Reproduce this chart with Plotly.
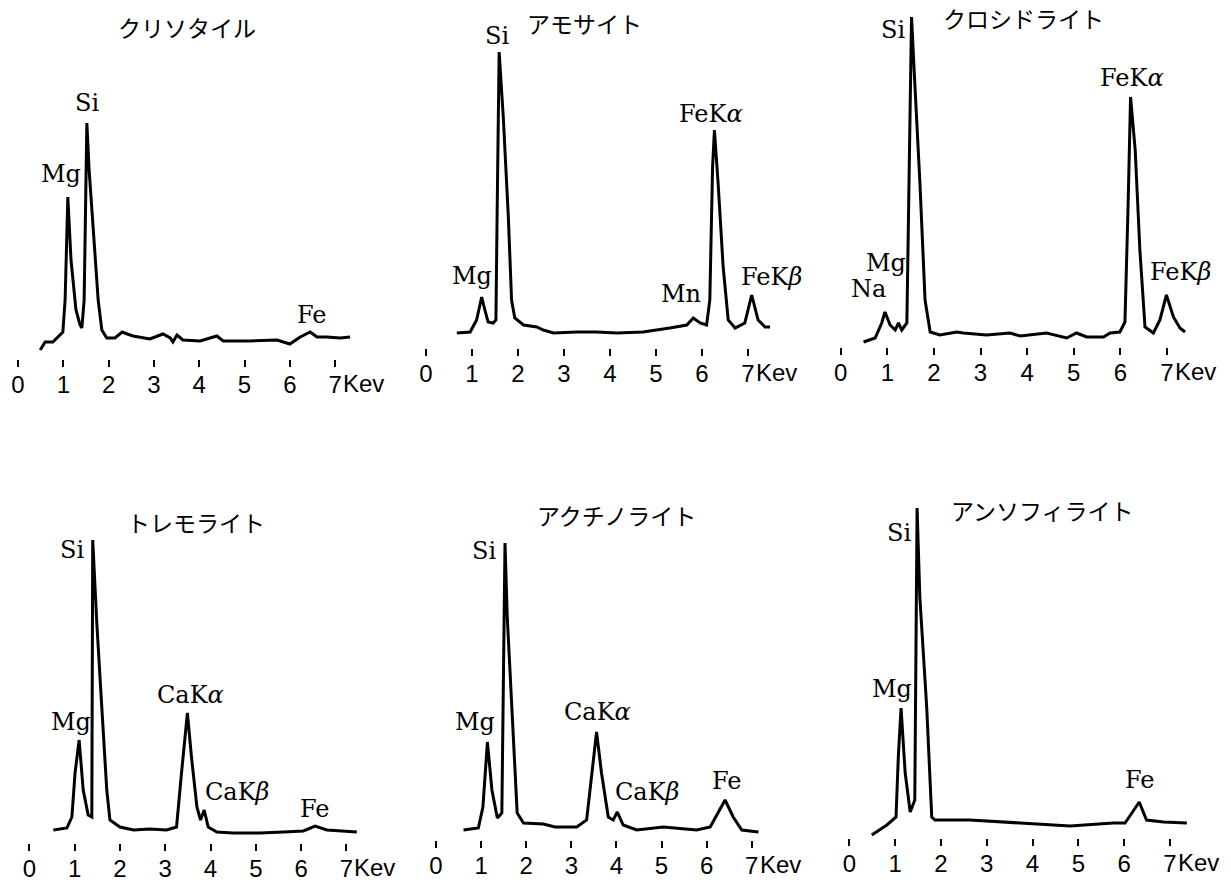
import plotly.graph_objects as go

W, H = 1231, 888

# ---------------- data ----------------
titles = ["クリソタイル", "アモサイト", "クロシドライト",
          "トレモライト", "アクチノライト", "アンソフィライト"]

tick_values = [0, 1, 2, 3, 4, 5, 6, 7]
tick_labels = ["0", "1", "2", "3", "4", "5", "6", "7"]
unit_label = "Kev"

chrysotile_kev = [0.49, 0.60, 0.77, 0.99, 1.04, 1.10, 1.17, 1.28, 1.37, 1.41, 1.46, 1.50, 1.52,
                  1.57, 1.66, 1.77, 1.85, 1.96, 2.14, 2.30, 2.41, 2.54, 2.91, 3.20, 3.36, 3.42,
                  3.51, 3.64, 4.02, 4.39, 4.53, 5.12, 5.72, 6.00, 6.23, 6.45, 6.60, 6.82, 7.11, 7.33]
chrysotile_counts = [9, 17, 17, 27, 59, 162, 99, 49, 34, 31, 59, 179, 236,
                     189, 129, 59, 29, 21, 21, 27, 25, 23, 20, 25, 21, 17,
                     24, 19, 18, 23, 18, 18, 19, 15, 22, 27, 22, 22, 21, 22]

amosite_kev = [0.67, 0.96, 1.10, 1.21, 1.28, 1.35, 1.46, 1.52, 1.55, 1.59, 1.68, 1.79, 1.86,
               1.93, 2.12, 2.41, 2.55, 2.77, 3.28, 3.71, 4.15, 4.72, 5.30, 5.67, 5.81, 5.96,
               6.10, 6.17, 6.23, 6.27, 6.35, 6.46, 6.57, 6.72, 6.93, 7.08, 7.22, 7.37, 7.48]
amosite_counts = [15, 16, 28, 51, 38, 26, 25, 28, 148, 296, 231, 131, 48,
                  30, 23, 21, 18, 15, 16, 16, 15, 16, 20, 23, 30, 25,
                  23, 48, 181, 218, 165, 81, 28, 20, 25, 53, 28, 21, 21]

crocidolite_kev = [0.49, 0.74, 0.88, 0.95, 1.06, 1.17, 1.24, 1.31, 1.42, 1.45, 1.52, 1.59, 1.70,
                   1.81, 1.92, 2.13, 2.49, 2.63, 3.13, 3.63, 3.85, 4.42, 4.85, 5.06, 5.28, 5.64,
                   5.78, 5.99, 6.10, 6.17, 6.22, 6.32, 6.42, 6.53, 6.71, 6.85, 6.99, 7.14, 7.28, 7.39]
crocidolite_counts = [5, 9, 24, 35, 22, 17, 24, 17, 24, 114, 330, 264, 164,
                      47, 15, 12, 15, 14, 12, 14, 11, 14, 9, 14, 10, 10,
                      14, 15, 25, 147, 250, 197, 97, 20, 14, 27, 52, 30, 19, 15]

tremolite_kev = [0.53, 0.83, 0.94, 1.01, 1.10, 1.19, 1.30, 1.38, 1.40, 1.49, 1.60, 1.71, 1.78,
                 2.00, 2.30, 2.66, 3.03, 3.25, 3.36, 3.49, 3.58, 3.70, 3.78, 3.86, 3.95, 4.14,
                 4.50, 5.09, 5.61, 6.05, 6.31, 6.57, 7.23]
tremolite_counts = [13, 15, 26, 70, 103, 53, 28, 26, 303, 220, 136, 53, 23,
                    16, 13, 14, 13, 16, 70, 130, 86, 36, 23, 33, 16, 11,
                    10, 10, 11, 12, 17, 13, 11]

actinolite_kev = [0.61, 0.94, 1.04, 1.14, 1.24, 1.36, 1.46, 1.53, 1.58, 1.68, 1.80, 1.94, 2.38,
                  2.64, 3.12, 3.34, 3.45, 3.56, 3.67, 3.82, 3.93, 4.02, 4.15, 4.45, 5.04, 5.78,
                  6.08, 6.22, 6.41, 6.59, 6.78, 7.15]
actinolite_counts = [10, 12, 33, 98, 50, 22, 27, 297, 223, 133, 27, 17, 16,
                     13, 13, 20, 67, 108, 67, 23, 20, 28, 15, 10, 13, 10,
                     13, 25, 40, 23, 10, 8]

anthophyllite_kev = [0.49, 0.82, 1.02, 1.07, 1.13, 1.22, 1.33, 1.43, 1.48, 1.54, 1.69, 1.80, 1.87,
                     2.63, 3.73, 4.82, 5.76, 6.02, 6.17, 6.33, 6.49, 6.86, 7.37]
anthophyllite_counts = [3, 13, 21, 81, 130, 65, 26, 38, 330, 241, 131, 21, 18,
                        18, 15, 12, 15, 15, 25, 36, 18, 16, 15]

peak_names = [
    ["Mg", "Si", "Fe"],
    ["Si", "FeK<i>α</i>", "Mg", "Mn", "FeK<i>β</i>"],
    ["Si", "FeK<i>α</i>", "Mg", "Na", "FeK<i>β</i>"],
    ["Si", "Mg", "CaK<i>α</i>", "CaK<i>β</i>", "Fe"],
    ["Si", "Mg", "CaK<i>α</i>", "CaK<i>β</i>", "Fe"],
    ["Si", "Mg", "Fe"],
]

spectra = [
    (chrysotile_kev, chrysotile_counts),
    (amosite_kev, amosite_counts),
    (crocidolite_kev, crocidolite_counts),
    (tremolite_kev, tremolite_counts),
    (actinolite_kev, actinolite_counts),
    (anthophyllite_kev, anthophyllite_counts),
]

# ---------------- layout (pixel geometry) ----------------
geometry = [
    dict(ox=18.0, s=45.3, bottom=359, title=(187, 27)),
    dict(ox=426.0, s=46.0, bottom=348, title=(584, 23)),
    dict(ox=840.7, s=46.6, bottom=347, title=(1023, 18)),
    dict(ox=29.3, s=45.3, bottom=843, title=(196, 522)),
    dict(ox=436.0, s=45.1, bottom=840, title=(616, 515)),
    dict(ox=849.3, s=45.8, bottom=838, title=(1042, 510)),
]
label_pos = [
    [(0.95, 185), (1.52, 256), (6.49, 44)],
    [(1.54, 312), (6.20, 234), (1.01, 72), (5.54, 54), (7.50, 71)],
    [(1.12, 317), (6.26, 269), (0.97, 84), (0.59, 58), (7.30, 75)],
    [(0.94, 293), (0.92, 121), (3.55, 148), (4.58, 51), (6.31, 34)],
    [(1.06, 289), (0.86, 118), (3.59, 128), (4.68, 48), (6.46, 59)],
    [(1.09, 305), (0.93, 149), (6.35, 58)],
]

YSPAN = 345
XMIN, XMAX = -0.3, 7.7
LABEL_OFF = 24

fig = go.Figure()
layout = dict(width=W, height=H, margin=dict(l=0, r=0, t=0, b=0),
              paper_bgcolor="white", plot_bgcolor="white", showlegend=False)
annotations = []

for i, ((kev, counts), g) in enumerate(zip(spectra, geometry), start=1):
    xa = "x" if i == 1 else f"x{i}"
    ya = "y" if i == 1 else f"y{i}"
    left = g["ox"] + XMIN * g["s"]
    right = g["ox"] + XMAX * g["s"]
    top = g["bottom"] - YSPAN
    fig.add_trace(go.Scatter(x=kev, y=counts, mode="lines",
                             line=dict(color="black", width=3),
                             xaxis=xa, yaxis=ya, hoverinfo="skip"))
    layout[f"xaxis{i}"] = dict(
        domain=[left / W, right / W], range=[XMIN, XMAX], anchor=ya,
        tickmode="array", tickvals=tick_values, ticktext=tick_labels,
        ticks="outside", ticklen=7, tickwidth=2, tickcolor="black",
        showline=False, showgrid=False, zeroline=False,
        ticklabelstandoff=-3,
        tickfont=dict(family="Liberation Sans", size=24, color="black"),
    )
    layout[f"yaxis{i}"] = dict(
        domain=[1 - g["bottom"] / H, 1 - top / H], range=[0, YSPAN],
        anchor=xa, visible=False, showgrid=False, zeroline=False,
    )
    annotations.append(dict(
        text=titles[i - 1], x=g["title"][0] / W, y=1 - g["title"][1] / H,
        xref="paper", yref="paper", xanchor="center", yanchor="middle",
        showarrow=False, font=dict(family="Noto Sans CJK JP", size=23, color="black")))
    for name, (lx, ly) in zip(peak_names[i - 1], label_pos[i - 1]):
        annotations.append(dict(
            text=name, x=lx, y=ly, xref=xa, yref=ya,
            xanchor="center", yanchor="middle", showarrow=False,
            font=dict(family="DejaVu Serif", size=24, color="black")))
    annotations.append(dict(
        text=unit_label, x=7, y=0, xref=xa, yref=f"{ya} domain",
        xanchor="left", yanchor="middle", xshift=6, yshift=-LABEL_OFF,
        showarrow=False, font=dict(family="Liberation Sans", size=24, color="black")))

layout["annotations"] = annotations
fig.update_layout(**layout)
fig.write_html("out.html", config={"displayModeBar": False},
               post_script="document.body.style.margin='0px';")
